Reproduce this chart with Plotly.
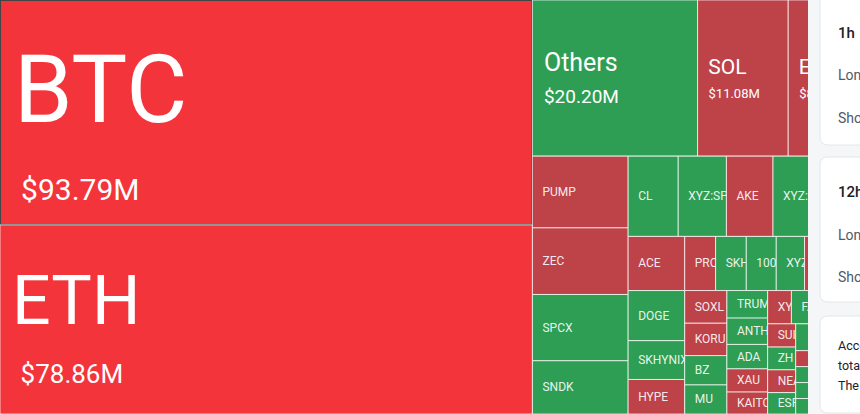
import plotly.graph_objects as go

# ---------------- data ----------------
labels = [
    "BTC", "ETH", "Others", "SOL", "ENA",
    "PUMP", "ZEC", "SPCX", "SNDK",
    "CL", "XYZ:SP", "AKE", "XYZ:SI", "XRP",
    "ACE", "DOGE", "SKHYNIX", "HYPE",
    "PRO", "SKH", "100", "XYZ", "LINK", "AVAX",
    "SOXL", "KORU", "BZ", "MU",
    "TRUMP", "ANTH", "ADA", "XAU", "KAITO",
    "XY", "FARTCOIN", "WIF", "LTC",
    "SUI", "ZH", "NEAR", "ESP",
    "TAO", "HBAR", "BCH", "DOT", "UNI", "APT", "AAVE",
    "ARB", "OP", "INJ", "TIA", "SEI", "WLD", "ONDO",
]
values = [
    93.79, 78.86, 20.20, 11.08, 8.78,
    5.38, 4.99, 4.97, 3.99,
    3.15, 3.03, 2.93, 2.80, 2.67,
    2.40, 2.22, 1.72, 1.53,
    1.31, 1.30, 1.27, 1.20, 1.18, 1.17,
    1.08, 1.07, 0.97, 0.96,
    0.88, 0.84, 0.78, 0.74, 0.70,
    0.62, 0.61, 0.60, 0.58,
    0.51, 0.50, 0.50, 0.47,
    0.34, 0.34, 0.34, 0.33, 0.33, 0.33, 0.33,
    0.32, 0.32, 0.32, 0.32, 0.31, 0.31, 0.30,
]
# -2 strong red, -1 red, 1 green
tones = [
    -2, -2, 1, -1, -1,
    -1, -1, 1, 1,
    1, 1, -1, 1, 1,
    -1, 1, 1, -1,
    -1, 1, 1, 1, -1, 1,
    -1, -1, 1, 1,
    1, 1, 1, -1, -1,
    -1, 1, 1, -1,
    -1, 1, -1, 1,
    1, 1, 1, 1, -1, 1, 1,
    1, -1, 1, 1, 1, -1, 1,
]

# ---------------- style ----------------
TONE_COLORS = {-2: "#F4343B", -1: "#BE4349", 1: "#2F9E55"}
FONT = "Roboto, sans-serif"
NBSP = "\u00a0"
ADV = 0.2476  # nbsp advance (em)

# label: (label px, value px, line breaks, extra value shift px, label indent, value indent, top spacer px)
BIG = {
    "BTC": (94, 30, 5, 0, 11, 18, 112),
    "ETH": (68, 26, 3, 12, 9, 17.5, 80),
    "Others": (25, 19, 2, 0, 8.5, 8.5, 0),
    "SOL": (21, 13, 1, 8.4, 7.6, 7.9, 0),
    "ENA": (21, 13, 1, 8.4, 7.6, 7.9, 0),
}
# tiles that sit entirely under the side panel: no label drawn
UNDER_PANEL = {"XRP", "LINK", "AVAX", "WIF", "LTC", "TAO", "HBAR", "BCH", "DOT", "UNI",
               "APT", "AAVE", "ARB", "OP", "INJ", "TIA", "SEI", "WLD", "ONDO"}
SMALL_PX = 12
SMALL_INDENT = 7


def spacer(px, size, extra=""):
    n = int(px // (ADV * size))
    s = ""
    if n:
        s += f"<span style='font-size:{size}px{extra}'>{NBSP * n}</span>"
    rem = px - n * ADV * size
    if rem > 1:
        s += f"<span style='font-size:{rem / ADV:.1f}px{extra}'>{NBSP}</span>"
    return s


templates, text_colors = [], []
for lab, val in zip(labels, values):
    if lab in BIG:
        lp, vp, nbr, shift, li, vi, top = BIG[lab]
        line1 = spacer(li, lp) + f"<span style='font-size:{lp}px'>{lab}</span>"
        if top:
            line1 += f"<span style='font-size:{top}px'>{NBSP}</span>"
        sh = f";baseline-shift:-{shift}px" if shift else ""
        line2 = spacer(vi, vp, sh) + f"<span style='font-size:{vp}px{sh}'>${val:.2f}M</span>"
        templates.append(line1 + "<br>" * nbr + line2)
        text_colors.append("#FFFFFF")
    elif lab in UNDER_PANEL:
        templates.append(" ")
        text_colors.append("rgba(255,255,255,0.9)")
    else:
        templates.append(spacer(SMALL_INDENT, SMALL_PX) + f"<span style='font-size:{SMALL_PX}px'>{lab}</span>")
        text_colors.append("rgba(255,255,255,0.9)")

fig = go.Figure(go.Treemap(
    labels=labels,
    parents=[""] * len(labels),
    values=values,
    sort=True,
    marker=dict(
        colors=[TONE_COLORS[t] for t in tones],
        line=dict(width=1, color="rgba(255,255,255,0.7)"),
        pad=dict(t=0, l=0, r=0, b=0),
        depthfade=False,
    ),
    tiling=dict(packing="squarify", squarifyratio=(1 + 5 ** 0.5) / 2, pad=0),
    pathbar=dict(visible=False),
    texttemplate=templates,
    textposition="middle left",
    textfont=dict(family=FONT, size=SMALL_PX, color=text_colors),
    root=dict(color="rgba(0,0,0,0)"),
    hoverinfo="skip",
    domain=dict(x=[0, 1], y=[0, 1]),
))

W, H = 860, 414


def px(x):
    return x / W


def py(y):
    return 1 - y / H


def rounded(x0, y0, x1, y1, r=8):
    rx, ry = r / W, r / H
    X0, X1, Y0, Y1 = px(x0), px(x1), py(y1), py(y0)
    return (f"M{X0 + rx},{Y1} L{X1 - rx},{Y1} Q{X1},{Y1} {X1},{Y1 - ry} "
            f"L{X1},{Y0 + ry} Q{X1},{Y0} {X1 - rx},{Y0} L{X0 + rx},{Y0} "
            f"Q{X0},{Y0} {X0},{Y0 + ry} L{X0},{Y1 - ry} Q{X0},{Y1} {X0 + rx},{Y1} Z")


shapes = [dict(type="rect", xref="paper", yref="paper", x0=px(808), x1=1.05, y0=-0.05, y1=1.05,
               fillcolor="#F5F6F8", line=dict(width=0), layer="above")]
for (c0, c1) in [(-10, 145), (157, 302), (316, 413)]:
    shapes.append(dict(type="path", xref="paper", yref="paper", path=rounded(820, c0, 900, c1),
                       fillcolor="#FFFFFF", line=dict(width=1, color="#E4E6EA"), layer="above"))

ann = []


def text(x, y, s, size, color, weight=400):
    ann.append(dict(x=px(x), y=py(y), xref="paper", yref="paper", text=s, showarrow=False,
                    xanchor="left", yanchor="middle",
                    font=dict(family=FONT, size=size, color=color, weight=weight)))


text(836, 33, "1h", 15, "#1D2129", 500)
text(836, 75, "Long", 14, "#4E5969")
text(836, 118, "Short", 14, "#4E5969")
text(836, 192, "12h", 15, "#1D2129", 500)
text(836, 235, "Long", 14, "#4E5969")
text(836, 277, "Short", 14, "#4E5969")
text(836, 345, "According to statistics,", 12.5, "#1D2129")
text(836, 365, "total liquidations", 12.5, "#1D2129")
text(836, 385, "The largest single order", 12.5, "#1D2129")

fig.update_layout(
    width=W, height=H,
    margin=dict(l=0, r=0, t=0, b=0),
    paper_bgcolor="#FFFFFF",
    font=dict(family=FONT),
    uniformtext=dict(mode="show", minsize=SMALL_PX),
    shapes=shapes,
    annotations=ann,
)

fig.write_html("out.html")
